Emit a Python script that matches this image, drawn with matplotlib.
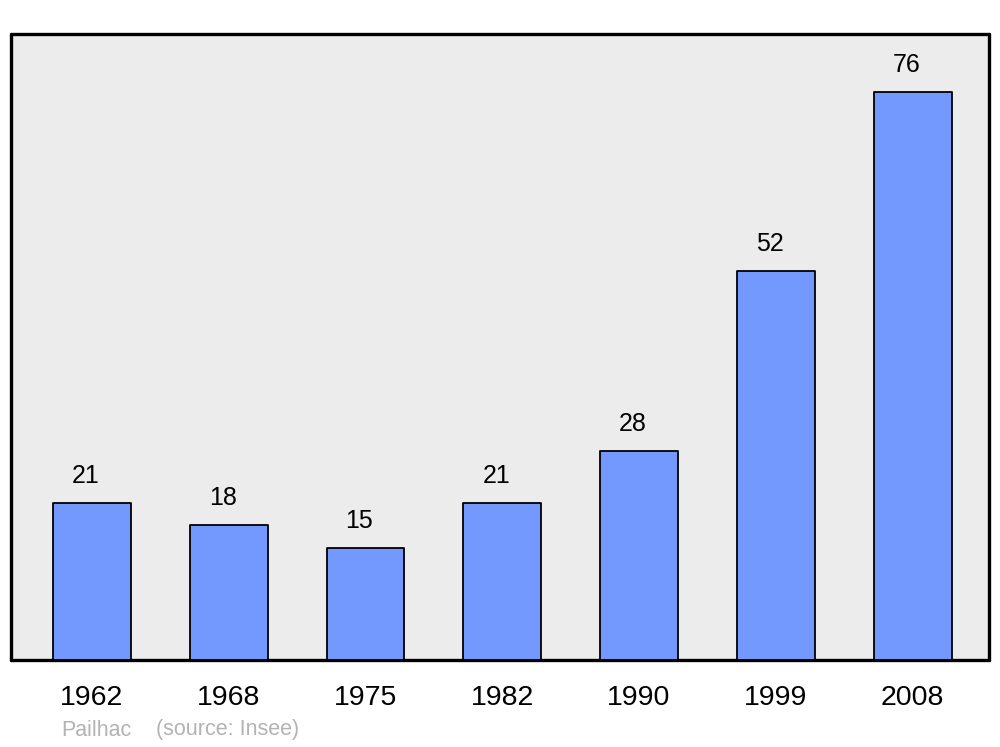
import matplotlib
matplotlib.use("Agg")
import matplotlib.pyplot as plt
import numpy as np

years = ["1962", "1968", "1975", "1982", "1990", "1999", "2008"]
population = [21, 18, 15, 21, 28, 52, 76]
commune = "Pailhac"
source = "(source: Insee)"

plt.rcParams['font.family'] = ['Liberation Sans', 'DejaVu Sans']

fig = plt.figure(figsize=(10, 7.47), dpi=100)
ax = fig.add_axes([0.011, 0.1165, 0.978, 0.838])
ax.set_facecolor("#ececec")

x = np.arange(len(years))
bars = ax.bar(x, population, width=0.57, color="#7399ff", edgecolor="black",
              linewidth=1.3, joinstyle="round", zorder=3)

ax.set_xlim(-0.592, 6.559)
ax.set_ylim(0, 83.76)

for xi, v in zip(x, population):
    ax.annotate(str(v), (xi, v), xytext=(-6, 27), textcoords="offset pixels",
                ha="center", va="center", fontsize=18, color="black")

ax.set_xticks(x)
ax.set_xticklabels(years, fontsize=20.5)
ax.tick_params(axis="x", length=0, pad=18)
ax.set_yticks([])

for s in ax.spines.values():
    s.set_linewidth(2.4)
    s.set_capstyle("round")
    s.set_joinstyle("round")

fig.text(61/1000, 1 - 730/747, commune, fontsize=15.5, color="#b3b3b3", ha="left", va="center")
fig.text(156/1000, 1 - 730/747, source, fontsize=15.5, color="#b3b3b3", ha="left", va="center")

fig.savefig("out.png", dpi=100, facecolor="white")
